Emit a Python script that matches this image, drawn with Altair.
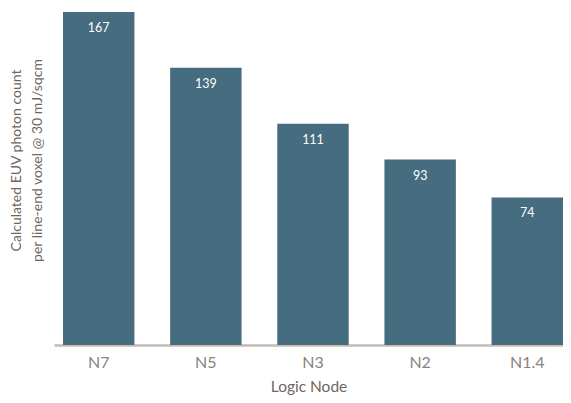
import altair as alt
import pandas as pd

nodes = ["N7", "N5", "N3", "N2", "N1.4"]
photons = [167, 139, 111, 93, 74]

df = pd.DataFrame({"node": nodes, "photons": photons})

FONT = "Lato"
BAR = "#466c80"
AXIS_LINE = "#c4bbb3"
LABEL = "#8a837e"
TITLE = "#6e6661"

base = alt.Chart(df).encode(
    x=alt.X(
        "node:N",
        sort=nodes,
        scale=alt.Scale(paddingInner=1/3, paddingOuter=0.042, align=1),
        axis=alt.Axis(
            title="Logic Node",
            labelAngle=0,
            ticks=False,
            domainColor=AXIS_LINE,
            domainWidth=2.5,
            labelColor=LABEL,
            labelFont=FONT,
            labelFontSize=16,
            labelPadding=9,
            titleColor=TITLE,
            titleFont=FONT,
            titleFontSize=15.5,
            titleFontWeight="normal",
            titlePadding=9,
        ),
    ),
    y=alt.Y(
        "photons:Q",
        scale=alt.Scale(domain=[0, 167], nice=False, zero=True),
        axis=alt.Axis(
            title=["Calculated EUV photon count", "per line-end voxel @ 30 mJ/sqcm"],
            labels=False,
            ticks=False,
            domain=False,
            grid=False,
            titleColor=TITLE,
            titleFont=FONT,
            titleFontSize=14,
            titleFontWeight="normal",
            titleLineHeight=21,
            titlePadding=10,
            titleY=148,
        ),
    ),
)

bars = base.mark_bar(color=BAR)
labels = base.mark_text(
    color="white", font=FONT, fontSize=12.5, baseline="middle", dy=16
).encode(text="photons:Q")

chart = (
    (bars + labels)
    .properties(
        width=509,
        height=333,
        background="white",
        autosize=alt.AutoSizeParams(type="none"),
        padding={"left": 46, "top": 4, "right": 0, "bottom": 50},
    )
    .configure_view(strokeWidth=0, stroke="transparent")
)

chart.save("out.html", embed_options={"renderer": "svg", "actions": False})
